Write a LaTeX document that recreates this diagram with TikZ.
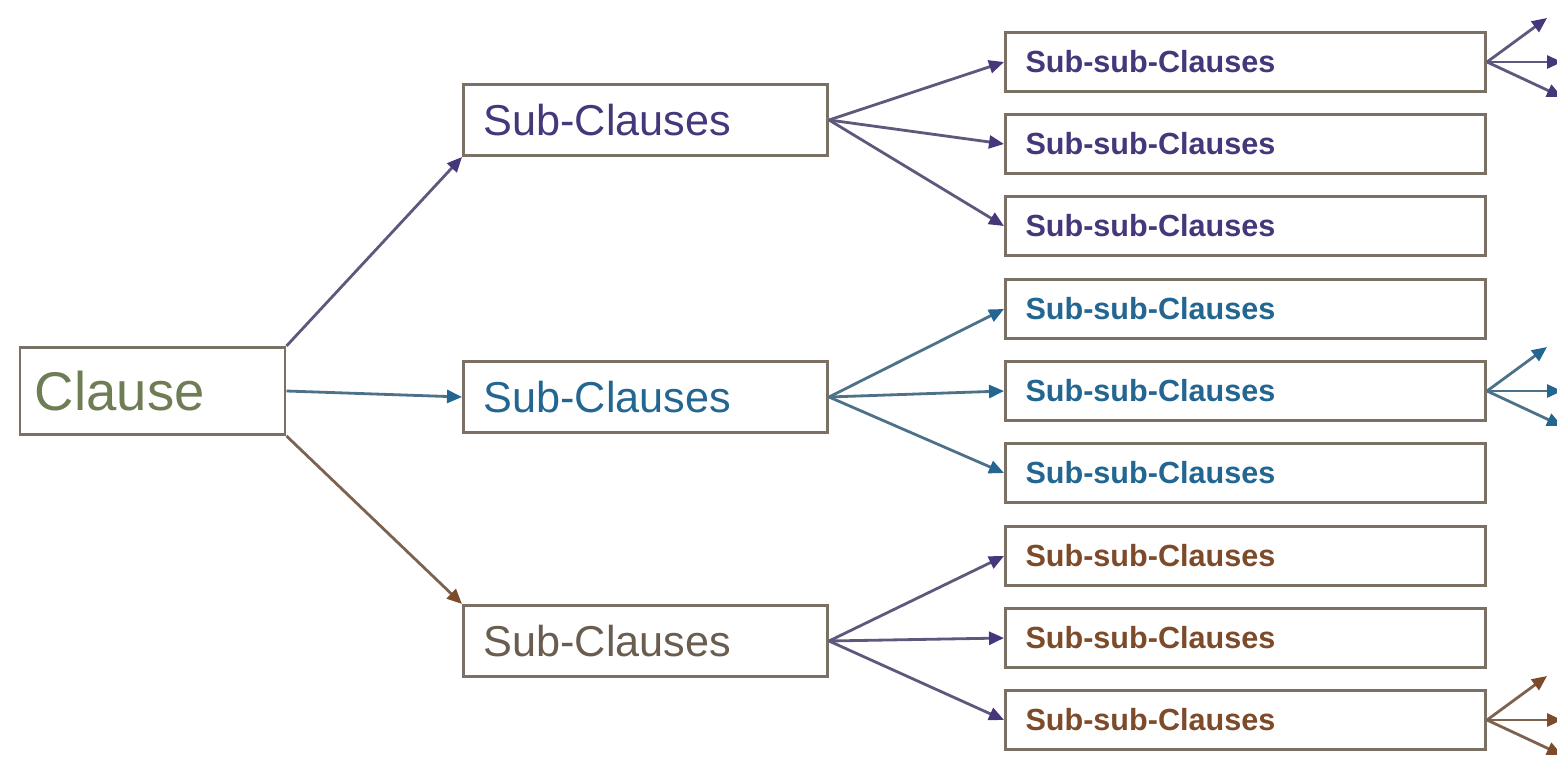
\documentclass[tikz,border=0pt]{standalone}
\usepackage{fontspec}
\setmainfont{Liberation Sans}
\usetikzlibrary{arrows.meta}

\definecolor{boxline}{HTML}{7B7064}
\definecolor{clausetxt}{HTML}{6E7D55}
\definecolor{purp}{HTML}{45377A}
\definecolor{teal}{HTML}{236691}
\definecolor{brn}{HTML}{7D4A2A}
\definecolor{subgray}{HTML}{6A5C4E}

\begin{document}
\begin{tikzpicture}[grow'=right,
  box/.style={draw=boxline, line width=0.85pt, fill=white, align=left},
  clausebox/.style={box, text width=2.35cm, minimum height=0.87cm, inner xsep=0.15cm, font=\fontsize{15.5}{18}\selectfont},
  subbox/.style={box, text width=3.24cm, minimum height=0.71cm, inner xsep=0.2cm, font=\fontsize{12.3}{14}\selectfont},
  ssbox/.style={box, text width=4.4cm, minimum height=0.59cm, inner xsep=0.2cm, font=\bfseries\fontsize{8.7}{10}\selectfont},
  arr/.style={line width=0.8pt, draw=#1!55!gray, -{Triangle[length=1.5mm,width=1.3mm,color=#1]}},
  level 1/.style={level distance=4.93cm, sibling distance=2.47cm},
  level 2/.style={level distance=6cm, sibling distance=0.82cm,
    edge from parent path={(\tikzparentnode.east) -- (\tikzchildnode.west)}}]
  \useasboundingbox (0,0) rectangle (15.57,7.56);
  \node[clausebox, text=clausetxt] (cl) at (1.525,3.65) {Clause}
    child[arr=purp, edge from parent path={(\tikzparentnode.north east) -- (\tikzchildnode.south west)}]
    {node[subbox, text=purp, yshift=0.24cm] (s1) {Sub-Clauses}
     child[arr=purp, yshift=-0.24cm] {node[ssbox, text=purp] (a1) {Sub-sub-Clauses}}
     child[arr=purp, yshift=-0.24cm] {node[ssbox, text=purp] (a2) {Sub-sub-Clauses}}
     child[arr=purp, yshift=-0.24cm] {node[ssbox, text=purp] (a3) {Sub-sub-Clauses}}
    }
    child[arr=teal, edge from parent path={(\tikzparentnode.east) -- (\tikzchildnode.west)}]
    {node[subbox, text=teal, yshift=-0.06cm] (s2) {Sub-Clauses}
     child[arr=teal, yshift=0.06cm] {node[ssbox, text=teal] (b1) {Sub-sub-Clauses}}
     child[arr=teal, yshift=0.06cm] {node[ssbox, text=teal] (b2) {Sub-sub-Clauses}}
     child[arr=teal, yshift=0.06cm] {node[ssbox, text=teal] (b3) {Sub-sub-Clauses}}
    }
    child[arr=brn, edge from parent path={(\tikzparentnode.south east) -- (\tikzchildnode.north west)}]
    {node[subbox, text=subgray, yshift=-0.03cm] (s3) {Sub-Clauses}
     child[arr=purp, yshift=0.03cm] {node[ssbox, text=brn] (c1) {Sub-sub-Clauses}}
     child[arr=purp, yshift=0.03cm] {node[ssbox, text=brn] (c2) {Sub-sub-Clauses}}
     child[arr=purp, yshift=0.03cm] {node[ssbox, text=brn] (c3) {Sub-sub-Clauses}}
    };
  % small fans leaving the page on the right
  \foreach \n/\c in {a1/purp, b2/teal, c3/brn}{
    \path (\n.east) ++(0.6,0.44) coordinate (\n u)
          (\n.east) ++(0.75,0) coordinate (\n m)
          (\n.east) ++(0.75,-0.35) coordinate (\n d);
    \draw[arr=\c] (\n.east) -- (\n u);
    \draw[arr=\c] (\n.east) -- (\n m);
    \draw[arr=\c] (\n.east) -- (\n d);
  }
\end{tikzpicture}
\end{document}
